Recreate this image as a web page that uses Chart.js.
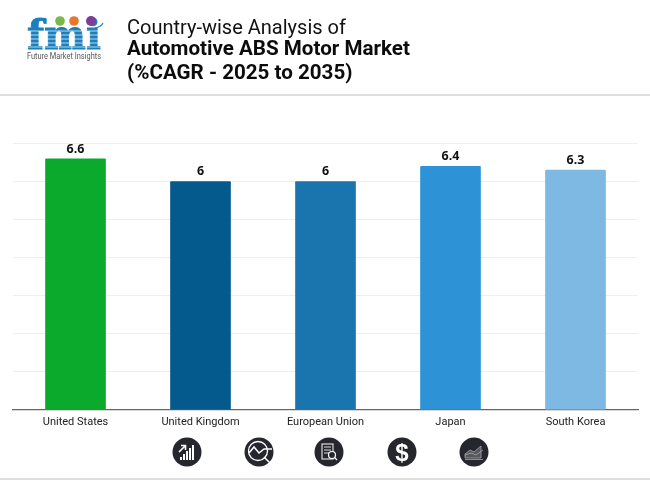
<!DOCTYPE html>
<html>
<head>
<meta charset="utf-8">
<script src="https://cdn.jsdelivr.net/npm/chart.js@4"></script>
<style>
    html, body { margin: 0; padding: 0; background: #fff; }
    #page { position: relative; width: 650px; height: 480px; overflow: hidden; background: #fff; font-family: Roboto, sans-serif; }
    #chart { position: absolute; left: 0; top: 0; }
    .title { position: absolute; left: 127px; font-size: 20px; line-height: 24px; color: #111; white-space: nowrap; }
    .bold { font-weight: 700; font-size: 20.6px; color: #0c0c0c; }
    .rule { position: absolute; left: 0; width: 650px; height: 2px; background: #dedede; }
    #logo { position: absolute; left: 24px; top: 14px; }
    .icon { position: absolute; top: 437px; }
</style>
</head>
<body>
<div id="page">
    <canvas id="chart" width="650" height="480"></canvas>

    <svg id="logo" width="82" height="50" viewBox="0 0 82 50">
        <text x="3" y="35" font-family="'DejaVu Serif'" font-weight="700" font-size="41" textLength="74" lengthAdjust="spacingAndGlyphs" fill="#1b7fbd" stroke="#1b7fbd" stroke-width="0.9">fmi</text>
        <g stroke="#fff" stroke-width="0.7">
            <line x1="0" y1="17" x2="80" y2="17"/>
            <line x1="0" y1="21" x2="80" y2="21"/>
            <line x1="0" y1="25" x2="80" y2="25"/>
            <line x1="0" y1="29" x2="80" y2="29"/>
            <line x1="0" y1="33" x2="80" y2="33"/>
        </g>
        <circle cx="36" cy="7" r="4.8" fill="#7ab648"/>
        <circle cx="50" cy="7" r="4.8" fill="#e8762d"/>
        <circle cx="67" cy="7" r="5" fill="#7d3c98"/>
        <path d="M71 14 Q77 13 79 9" fill="none" stroke="#1b7fbd" stroke-width="1.2"/>
        <text x="3" y="44.5" font-family="Roboto" font-size="8.2" textLength="74" lengthAdjust="spacingAndGlyphs" fill="#555">Future Market Insights</text>
    </svg>

    <div class="title" style="top:15px">Country-wise Analysis of</div>
    <div class="title bold" style="top:36px">Automotive ABS Motor Market</div>
    <div class="title bold" style="top:60px">(%CAGR - 2025 to 2035)</div>
    <div class="rule" style="top:94px"></div>
    <div class="rule" style="top:478px"></div>

    <svg class="icon" style="left:172px" width="30" height="30" viewBox="0 0 30 30">
        <circle cx="15" cy="15" r="14.5" fill="#26262e"/>
        <g fill="#fff"><rect x="8" y="20" width="2" height="3"/><rect x="11" y="17" width="2" height="6"/><rect x="14" y="14" width="2" height="9"/><rect x="17" y="11" width="2" height="12"/><rect x="20" y="8" width="2" height="15"/></g>
        <path d="M7 15 L13 9 M9 8.5 H13.5 V13" fill="none" stroke="#fff" stroke-width="1.6"/>
    </svg>
    <svg class="icon" style="left:244px" width="30" height="30" viewBox="0 0 30 30">
        <circle cx="15" cy="15" r="14.5" fill="#26262e"/>
        <circle cx="14" cy="14" r="9.5" fill="none" stroke="#fff" stroke-width="1.3"/>
        <path d="M5 16 L10 10 L15 16 L20 12 H28 M20 20 L27 27" fill="none" stroke="#fff" stroke-width="1.5"/>
    </svg>
    <svg class="icon" style="left:314px" width="30" height="30" viewBox="0 0 30 30">
        <circle cx="15" cy="15" r="14.5" fill="#26262e"/>
        <rect x="8" y="7" width="11" height="15" fill="none" stroke="#ddd" stroke-width="1.2"/>
        <path d="M10 10 H17 M10 13 H17 M10 16 H15" stroke="#ddd" stroke-width="1"/>
        <circle cx="18" cy="18" r="3.5" fill="#26262e" stroke="#fff" stroke-width="1.2"/>
        <path d="M20.5 20.5 L23 23" stroke="#fff" stroke-width="1.3"/>
    </svg>
    <svg class="icon" style="left:387px" width="30" height="30" viewBox="0 0 30 30">
        <circle cx="15" cy="15" r="14.5" fill="#26262e"/>
        <text x="15" y="23.5" text-anchor="middle" font-family="'Liberation Sans'" font-weight="700" font-size="24" fill="#fff">$</text>
    </svg>
    <svg class="icon" style="left:459px" width="30" height="30" viewBox="0 0 30 30">
        <circle cx="15" cy="15" r="14.5" fill="#26262e"/>
        <path d="M6 21 V17 L11 13 L15 15 L22 9 V21 Z" fill="#55555c" stroke="#aaa" stroke-width="0.8"/>
        <path d="M6 22.5 H24 M6 18 L12 16 L17 18 L24 13" fill="none" stroke="#aaa" stroke-width="0.8"/>
    </svg>
</div>

<script>
const categories = ['United States', 'United Kingdom', 'European Union', 'Japan', 'South Korea'];
const cagrValues = [6.6, 6, 6, 6.4, 6.3];
const barColors = ['#0BAA2C', '#045A8D', '#1A74AE', '#2E93D6', '#7DB9E2'];

// values above the bars
const barLabels = {
    id: 'barLabels',
    afterDatasetsDraw(chart) {
        const ctx = chart.ctx;
        ctx.save();
        ctx.font = "700 12.5px 'Noto Sans'";
        ctx.fillStyle = '#111';
        ctx.textAlign = 'center';
        ctx.textBaseline = 'bottom';
        chart.getDatasetMeta(0).data.forEach((bar, i) => {
            ctx.fillText(String(cagrValues[i]), bar.x, bar.y - 3.5);
        });
        ctx.restore();
    }
};

new Chart(document.getElementById('chart'), {
    type: 'bar',
    data: {
        labels: categories,
        datasets: [{
            data: cagrValues,
            backgroundColor: barColors,
            borderRadius: 1,
            borderSkipped: false,
            barThickness: 60
        }]
    },
    options: {
        responsive: false,
        animation: false,
        layout: { padding: { left: 13, right: 12, top: 143.5, bottom: 53 } },
        plugins: {
            legend: { display: false },
            tooltip: { enabled: false }
        },
        scales: {
            x: {
                grid: { display: false },
                border: { color: '#666', width: 1.2 },
                ticks: { color: '#222', font: { family: 'Roboto', size: 11 }, padding: -2, maxRotation: 0 }
            },
            y: {
                min: 0,
                max: 7,
                afterFit(scale) { scale.width = 0; },
                grid: { color: '#eeeeee', drawTicks: false },
                border: { display: false },
                ticks: { display: false, stepSize: 1 }
            }
        }
    },
    plugins: [barLabels]
});
</script>
</body>
</html>
